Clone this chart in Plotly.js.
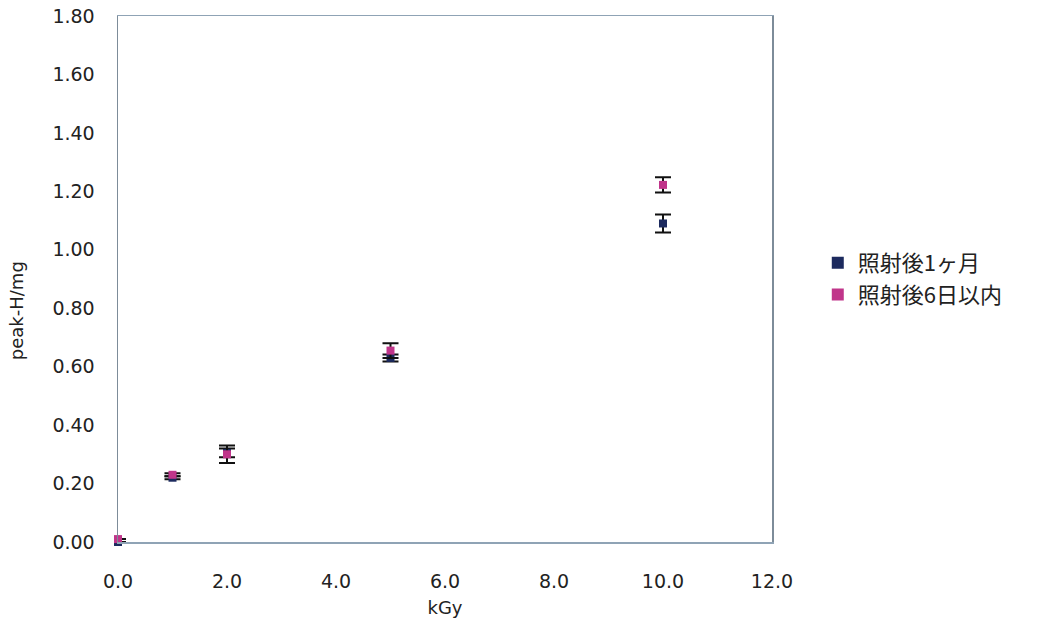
<!DOCTYPE html>
<html>
<head>
<meta charset="utf-8">
<script src="https://cdn.plot.ly/plotly-3.0.1.min.js"></script>
<style>html,body{margin:0;padding:0;background:#fff;}#chart{width:1038px;height:633px;}</style>
</head>
<body>
<div id="chart"></div>
<script>
var doses = [0, 1, 2, 5, 10];
var month1 = [0.00, 0.22, 0.305, 0.63, 1.09];
var month1Err = [0.00, 0.005, 0.015, 0.012, 0.031];
var days6 = [0.01, 0.23, 0.30, 0.655, 1.222];
var days6Err = [0.00, 0.005, 0.03, 0.025, 0.026];
var seriesNames = ['照射後1ヶ月', '照射後6日以内'];
var yTicks = [0, 0.2, 0.4, 0.6, 0.8, 1.0, 1.2, 1.4, 1.6, 1.8];
var xTicks = [0, 2, 4, 6, 8, 10, 12];
var yTitle = 'peak-H/mg';
var xTitle = 'kGy';

var font = 'DejaVu Sans, Liberation Sans, sans-serif';
var traces = [
  {x: doses, y: month1, name: seriesNames[0], type: 'scatter', mode: 'markers',
   marker: {symbol: 'square', size: 8, color: '#1c2a5e'},
   error_y: {type: 'data', array: month1Err, visible: true, color: '#111', thickness: 2, width: 8},
   cliponaxis: false},
  {x: doses, y: days6, name: seriesNames[1], type: 'scatter', mode: 'markers',
   marker: {symbol: 'square', size: 8, color: '#c0358a'},
   error_y: {type: 'data', array: days6Err, visible: true, color: '#111', thickness: 2, width: 8},
   cliponaxis: false}
];
var layout = {
  width: 1038, height: 633,
  margin: {l: 118, r: 266, t: 16, b: 91},
  paper_bgcolor: '#fff', plot_bgcolor: '#fff',
  showlegend: true,
  legend: {x: 1.07, y: 0.5, xanchor: 'left', yanchor: 'middle',
    font: {family: 'Noto Sans CJK JP, sans-serif', size: 22, color: '#222'},
    itemsizing: 'constant', tracegroupgap: 2},
  xaxis: {range: [0, 12], tickvals: xTicks, ticktext: xTicks.map(function(v){return v.toFixed(1);}),
    showgrid: false, zeroline: false, showline: true, linecolor: '#8fa3b5', linewidth: 1.5, mirror: true,
    ticks: 'outside', ticklen: 22, tickcolor: 'rgba(0,0,0,0)', tickfont: {family: font, size: 19, color: '#222'},
    title: {text: xTitle, font: {family: font, size: 18, color: '#222'}, standoff: 10}},
  yaxis: {range: [0, 1.8], tickvals: yTicks, ticktext: yTicks.map(function(v){return v.toFixed(2);}),
    showgrid: false, zeroline: false, showline: true, linecolor: '#7d8c99', linewidth: 1.5, mirror: true,
    ticks: 'outside', ticklen: 18, tickcolor: 'rgba(0,0,0,0)', tickfont: {family: font, size: 19, color: '#222'}},
  annotations: [{text: yTitle, xref: 'paper', yref: 'paper', x: -0.155, y: 0.44,
    xanchor: 'center', yanchor: 'middle', textangle: -90, showarrow: false,
    font: {family: font, size: 18, color: '#222'}}]
};
Plotly.newPlot('chart', traces, layout, {displayModeBar: false, staticPlot: true});
</script>
</body>
</html>
